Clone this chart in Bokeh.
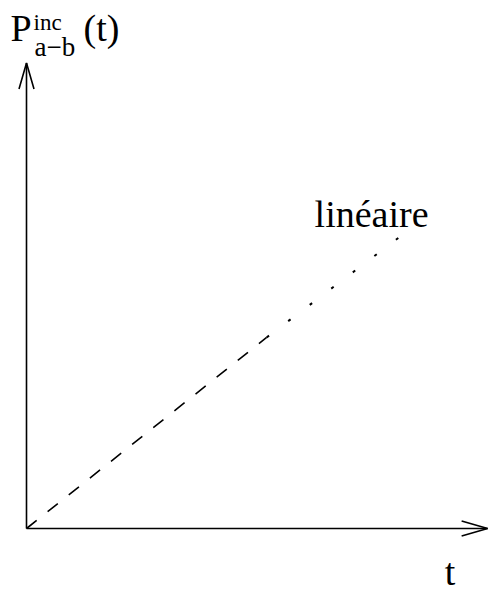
from bokeh.plotting import figure
from bokeh.models import Range1d, Label
from bokeh.embed import file_html
from bokeh.resources import INLINE

# ---- data ----
t_values = [0.0, 0.627, 1.0]          # time (arbitrary units)
p_values = [0.0, 0.639, 1.0]          # P_inc(a-b)(t)
series_label = "linéaire"
x_axis_label = "t"
x_axis_max = 1.204
y_axis_max = 1.557

# ---- layout / style ----
W, H = 488, 594
ox, oy = 26, 528            # origin position in canvas px (from top-left)
sx, sy = 383.0, 299.0       # px per data unit
FONT = "Liberation Serif"

p = figure(width=W, height=H, output_backend="svg", toolbar_location=None,
           x_range=Range1d(-ox / sx, (W - ox) / sx),
           y_range=Range1d(-(H - oy) / sy, oy / sy),
           x_axis_type=None, y_axis_type=None, min_border=0,
           outline_line_color=None, background_fill_color="white",
           border_fill_color="white")
p.grid.visible = False

# axes
p.segment(x0=[0, 0], y0=[0, 0], x1=[x_axis_max, 0], y1=[0, y_axis_max],
          line_color="black", line_width=1.6)
hl, hw = 26.0, 7.5
p.multi_line(
    xs=[[x_axis_max - hl / sx, x_axis_max, x_axis_max - hl / sx],
        [-hw / sx, 0, hw / sx]],
    ys=[[hw / sy, 0, -hw / sy],
        [y_axis_max - hl / sy, y_axis_max, y_axis_max - hl / sy]],
    line_color="black", line_width=1.6)

# linear curve: dashed then dotted
p.line(t_values[:2], p_values[:2], line_color="black", line_width=1.6,
       line_dash="13 14")
p.line(t_values[1:], p_values[1:], line_color="black", line_width=2.0,
       line_dash="3 24")

def lab(text, x, y, dx, dy, size, align="left"):
    # the renderer centres text vertically; compensate to put the baseline at dy
    shift = 0.36 * size
    p.add_layout(Label(x=x, y=y, x_offset=dx, y_offset=dy + shift, text=text,
                       text_font=FONT, text_font_size=f"{size}px",
                       text_align=align, text_baseline="alphabetic",
                       text_color="black"))

# series label
lab(series_label, t_values[-1], p_values[-1], 19, 2, 38, "right")

# y-axis label  P^inc_{a-b}(t)
lab("P", 0, y_axis_max, -16, 21, 38)
lab("inc", 0, y_axis_max, 7, 32, 23)
lab("a\u2212b", 0, y_axis_max, 8, 6, 27)
lab("(t)", 0, y_axis_max, 57, 21, 38)

# x-axis label
lab(x_axis_label, x_axis_max, 0, -43, -57, 38)

open("out.html", "w").write(file_html(p, INLINE))
